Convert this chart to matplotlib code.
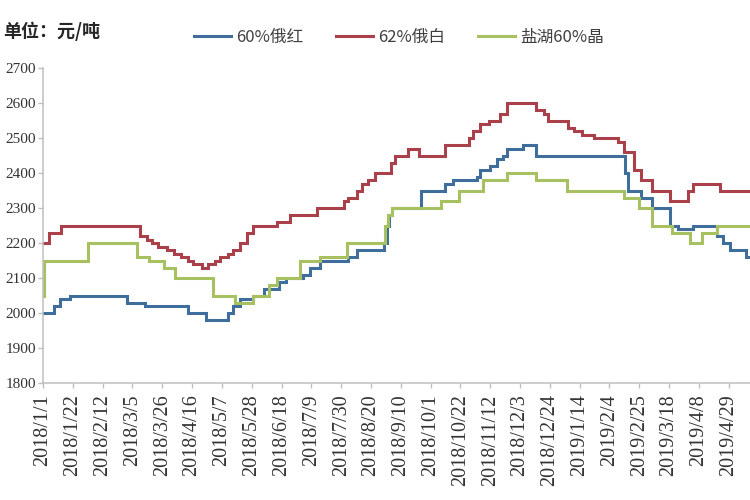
import matplotlib
matplotlib.use("Agg")
import matplotlib.pyplot as plt
import pandas as pd

# ---------------- data (price change points, 元/吨) ----------------
blue_name = "60%俄红"
blue_dates = ["2018-01-01", "2018-01-09", "2018-01-13", "2018-01-20", "2018-03-01",
              "2018-03-14", "2018-04-13", "2018-04-26", "2018-05-11", "2018-05-15",
              "2018-05-20", "2018-05-29", "2018-06-06", "2018-06-16", "2018-06-21",
              "2018-07-03", "2018-07-08", "2018-07-15", "2018-08-04", "2018-08-10",
              "2018-08-29", "2018-08-31", "2018-09-02", "2018-09-04", "2018-09-24",
              "2018-10-11", "2018-10-17", "2018-11-03", "2018-11-05", "2018-11-12",
              "2018-11-17", "2018-11-21", "2018-11-24", "2018-12-05", "2018-12-14",
              "2019-02-15", "2019-02-17", "2019-02-26", "2019-03-06", "2019-03-19",
              "2019-03-24", "2019-04-04", "2019-04-21", "2019-04-25", "2019-04-30",
              "2019-05-11", "2019-05-14"]
blue_values = [2000, 2020, 2040, 2050, 2030,
               2020, 2000, 1980, 2000, 2020,
               2040, 2050, 2070, 2090, 2100,
               2110, 2130, 2150, 2160, 2180,
               2200, 2250, 2280, 2300, 2350,
               2370, 2380, 2390, 2410, 2420,
               2440, 2450, 2470, 2480, 2450,
               2400, 2350, 2330, 2300, 2250,
               2240, 2250, 2220, 2200, 2180,
               2160, 2160]

red_name = "62%俄白"
red_dates = ["2018-01-01", "2018-01-05", "2018-01-14", "2018-03-10", "2018-03-15",
             "2018-03-19", "2018-03-23", "2018-03-29", "2018-04-03", "2018-04-08",
             "2018-04-13", "2018-04-17", "2018-04-23", "2018-04-27", "2018-05-02",
             "2018-05-06", "2018-05-11", "2018-05-15", "2018-05-20", "2018-05-25",
             "2018-05-29", "2018-06-15", "2018-06-24", "2018-07-13", "2018-08-01",
             "2018-08-04", "2018-08-10", "2018-08-14", "2018-08-18", "2018-08-23",
             "2018-09-03", "2018-09-06", "2018-09-15", "2018-09-23", "2018-10-11",
             "2018-10-28", "2018-10-31", "2018-11-05", "2018-11-11", "2018-11-19",
             "2018-11-24", "2018-12-14", "2018-12-20", "2018-12-23", "2019-01-06",
             "2019-01-10", "2019-01-16", "2019-01-24", "2019-02-10", "2019-02-14",
             "2019-02-21", "2019-02-26", "2019-03-06", "2019-03-19", "2019-03-31",
             "2019-04-04", "2019-04-23", "2019-05-14"]
red_values = [2200, 2230, 2250, 2220, 2210,
              2200, 2190, 2180, 2170, 2160,
              2150, 2140, 2130, 2140, 2150,
              2160, 2170, 2180, 2200, 2230,
              2250, 2260, 2280, 2300, 2320,
              2330, 2350, 2370, 2380, 2400,
              2430, 2450, 2470, 2450, 2480,
              2500, 2520, 2540, 2550, 2570,
              2600, 2580, 2570, 2550, 2530,
              2520, 2510, 2500, 2490, 2460,
              2410, 2380, 2350, 2320, 2350,
              2370, 2350, 2350]

green_name = "盐湖60%晶"
green_dates = ["2018-01-01", "2018-01-02", "2018-02-02", "2018-03-08", "2018-03-17",
               "2018-03-27", "2018-04-04", "2018-05-01", "2018-05-16", "2018-05-29",
               "2018-06-09", "2018-06-15", "2018-07-01", "2018-07-15", "2018-08-03",
               "2018-08-30", "2018-09-01", "2018-09-04", "2018-10-08", "2018-10-21",
               "2018-11-07", "2018-11-24", "2018-12-14", "2019-01-05", "2019-02-14",
               "2019-02-25", "2019-03-06", "2019-03-20", "2019-04-02", "2019-04-10",
               "2019-04-21", "2019-05-14"]
green_values = [2050, 2150, 2200, 2160, 2150,
                2130, 2100, 2050, 2030, 2050,
                2080, 2100, 2150, 2160, 2200,
                2250, 2280, 2300, 2320, 2350,
                2380, 2400, 2380, 2350, 2330,
                2300, 2250, 2230, 2200, 2230,
                2250, 2250]

x_tick_labels = ["2018/1/1", "2018/1/22", "2018/2/12", "2018/3/5", "2018/3/26",
                 "2018/4/16", "2018/5/7", "2018/5/28", "2018/6/18", "2018/7/9",
                 "2018/7/30", "2018/8/20", "2018/9/10", "2018/10/1", "2018/10/22",
                 "2018/11/12", "2018/12/3", "2018/12/24", "2019/1/14", "2019/2/4",
                 "2019/2/25", "2019/3/18", "2019/4/8", "2019/4/29"]
y_ticks = [1800, 1900, 2000, 2100, 2200, 2300, 2400, 2500, 2600, 2700]
unit_label = "单位：元/吨"

# ---------------- styling ----------------
plt.rcParams["font.family"] = ["Noto Sans CJK SC", "DejaVu Sans"]
BLUE = "#3F6E9C"
RED = "#A9404A"
GREEN = "#A8C160"
AXIS = "#BFBFBF"
TXT = "#333333"

fig = plt.figure(figsize=(7.5, 5), dpi=100)
ax = fig.add_axes([43 / 750, 117 / 500, 707 / 750, 315 / 500])

series = [(blue_name, blue_dates, blue_values, BLUE),
          (red_name, red_dates, red_values, RED),
          (green_name, green_dates, green_values, GREEN)]
for name, d, v, c in series:
    ax.plot(pd.to_datetime(d), v, drawstyle="steps-post", color=c, lw=2.2,
            label=name, solid_joinstyle="miter")

ax.set_ylim(y_ticks[0], y_ticks[-1])
ax.set_yticks(y_ticks)
ax.set_yticklabels([str(t) for t in y_ticks])

tick_pos = pd.date_range(pd.Timestamp(blue_dates[0]), periods=len(x_tick_labels), freq="21D")
ax.set_xticks(tick_pos)
ax.set_xticklabels(x_tick_labels, rotation=90)
ax.set_xlim(pd.Timestamp(blue_dates[0]), pd.Timestamp(blue_dates[-1]))

for s in ["top", "right"]:
    ax.spines[s].set_visible(False)
for s in ["left", "bottom"]:
    ax.spines[s].set_color(AXIS)
    ax.spines[s].set_linewidth(1.1)

ax.tick_params(axis="both", direction="out", length=3.6, width=1.0, color=AXIS,
               labelcolor=TXT)
ax.tick_params(axis="y", pad=1.5)
ax.tick_params(axis="x", pad=4.5)
for lab in ax.get_yticklabels():
    lab.set_fontfamily("Liberation Serif")
    lab.set_fontsize(11)
for lab in ax.get_xticklabels():
    lab.set_fontfamily("Liberation Serif")
    lab.set_fontsize(14.5)

fig.legend(loc="center", bbox_to_anchor=(0.532, 0.926), ncol=3, frameon=False,
           fontsize=12, handlelength=2.2, handletextpad=0.3, columnspacing=2.0,
           labelcolor="#404040")

fig.text(3 / 750, 1 - 31 / 500, unit_label, ha="left", va="center",
         fontsize=13, fontweight="bold", color="#262626")

fig.savefig("out.png", dpi=100)
